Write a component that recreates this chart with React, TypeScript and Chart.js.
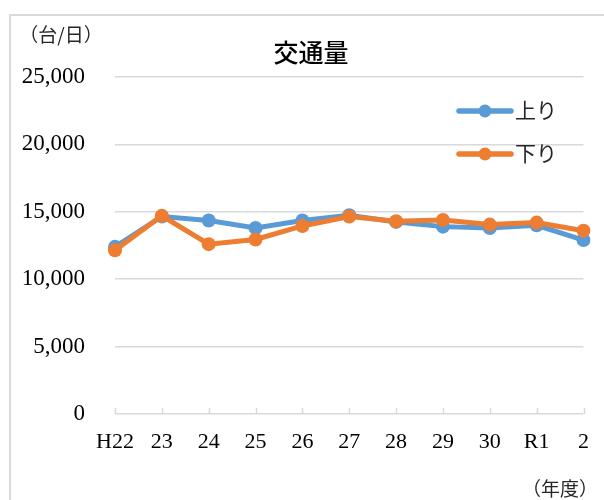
import React, { useEffect, useRef } from "react";
import { Chart, registerables } from "chart.js";

Chart.register(...registerables);

const years = ["H22", "23", "24", "25", "26", "27", "28", "29", "30", "R1", "2"];
const upValues = [12400, 14650, 14350, 13800, 14350, 14750, 14250, 13900, 13800, 14000, 12900];
const downValues = [12150, 14700, 12600, 12950, 13950, 14650, 14300, 14400, 14050, 14200, 13600];
const seriesNames = ["上り", "下り"];
const seriesColors = ["#5B9BD5", "#ED7D31"];
const titleText = "交通量";
const yUnitText = "（台/日）";
const xUnitText = "（年度）";

const CJK = '"Noto Sans CJK JP", "Noto Sans", sans-serif';
const SERIF = '"Liberation Serif", "DejaVu Serif", serif';
const GRID = "#d9d9d9";

const decorPlugin = {
  id: "decor",
  beforeDraw(chart: any) {
    const { ctx, width, height } = chart;
    ctx.save();
    ctx.fillStyle = "#ffffff";
    ctx.fillRect(0, 0, width, height);
    ctx.strokeStyle = GRID;
    ctx.lineWidth = 2;
    ctx.strokeRect(10, 15, width + 20, height + 20);
    ctx.restore();
  },
  beforeDatasetsDraw(chart: any) {
    const { ctx, chartArea } = chart;
    const xs = chart.scales.x;
    ctx.save();
    ctx.strokeStyle = GRID;
    ctx.lineWidth = 1.5;
    ctx.beginPath();
    for (let i = 0; i < years.length; i++) {
      const x = Math.round(xs.getPixelForTick(i)) + 0.5;
      ctx.moveTo(x, chartArea.bottom);
      ctx.lineTo(x, chartArea.bottom - 6);
    }
    ctx.stroke();
    ctx.restore();
  },
  afterDraw(chart: any) {
    const { ctx } = chart;
    ctx.save();
    ctx.fillStyle = "#000000";
    ctx.textAlign = "center";
    ctx.textBaseline = "middle";
    ctx.font = `500 25px ${CJK}`;
    ctx.fillText(titleText, 311, 52);
    ctx.font = `19px ${CJK}`;
    ctx.fillStyle = "#262626";
    ctx.fillText(yUnitText, 61, 35);
    ctx.fillText(xUnitText, 560, 489);

    // legend
    const items = [0, 1];
    items.forEach((i) => {
      const y = 111 + i * 43;
      ctx.strokeStyle = seriesColors[i];
      ctx.lineWidth = 5.5;
      ctx.lineCap = "round";
      ctx.beginPath();
      ctx.moveTo(459, y);
      ctx.lineTo(511, y);
      ctx.stroke();
      ctx.fillStyle = seriesColors[i];
      ctx.beginPath();
      ctx.arc(485, y, 6.5, 0, Math.PI * 2);
      ctx.fill();
      ctx.fillStyle = "#262626";
      ctx.textAlign = "left";
      ctx.font = `21px ${CJK}`;
      ctx.fillText(seriesNames[i], 515, y - 1);
    });
    ctx.restore();
  },
};

export default function App() {
  const ref = useRef<HTMLCanvasElement | null>(null);

  useEffect(() => {
    if (!ref.current) return;
    const chart = new Chart(ref.current, {
      type: "line",
      data: {
        labels: years,
        datasets: [
          {
            label: seriesNames[0],
            data: upValues,
            borderColor: seriesColors[0],
            backgroundColor: seriesColors[0],
            borderWidth: 5,
            pointRadius: 7,
            pointHoverRadius: 7,
            pointBorderWidth: 0,
            tension: 0,
            order: 1,
          },
          {
            label: seriesNames[1],
            data: downValues,
            borderColor: seriesColors[1],
            backgroundColor: seriesColors[1],
            borderWidth: 5,
            pointRadius: 7,
            pointHoverRadius: 7,
            pointBorderWidth: 0,
            tension: 0,
            order: 0,
          },
        ],
      },
      options: {
        responsive: false,
        animation: false,
        layout: { padding: { top: 77, right: 19, left: 0, bottom: 0 } },
        plugins: {
          legend: { display: false },
          title: { display: false },
          tooltip: { enabled: false },
        },
        scales: {
          x: {
            offset: false,
            grid: { display: false, drawTicks: false },
            border: { display: false },
            ticks: {
              color: "#000000",
              font: { family: SERIF, size: 22 },
              padding: 15,
              maxRotation: 0,
              autoSkip: false,
            },
            afterFit(scale: any) {
              scale.height = 86;
            },
          },
          y: {
            min: 0,
            max: 25000,
            grid: { color: GRID, lineWidth: 1.5, drawTicks: false },
            border: { display: false },
            ticks: {
              stepSize: 5000,
              color: "#000000",
              font: { family: SERIF, size: 23 },
              padding: 30,
              callback: (v: any) => Number(v).toLocaleString("en-US"),
            },
            afterFit(scale: any) {
              scale.width = 115;
            },
          },
        },
      },
      plugins: [decorPlugin],
    });
    return () => chart.destroy();
  }, []);

  return (
    <div style={{ position: "fixed", left: 0, top: 0, width: 604, height: 500 }}>
      <canvas ref={ref} width={604} height={500} />
    </div>
  );
}
